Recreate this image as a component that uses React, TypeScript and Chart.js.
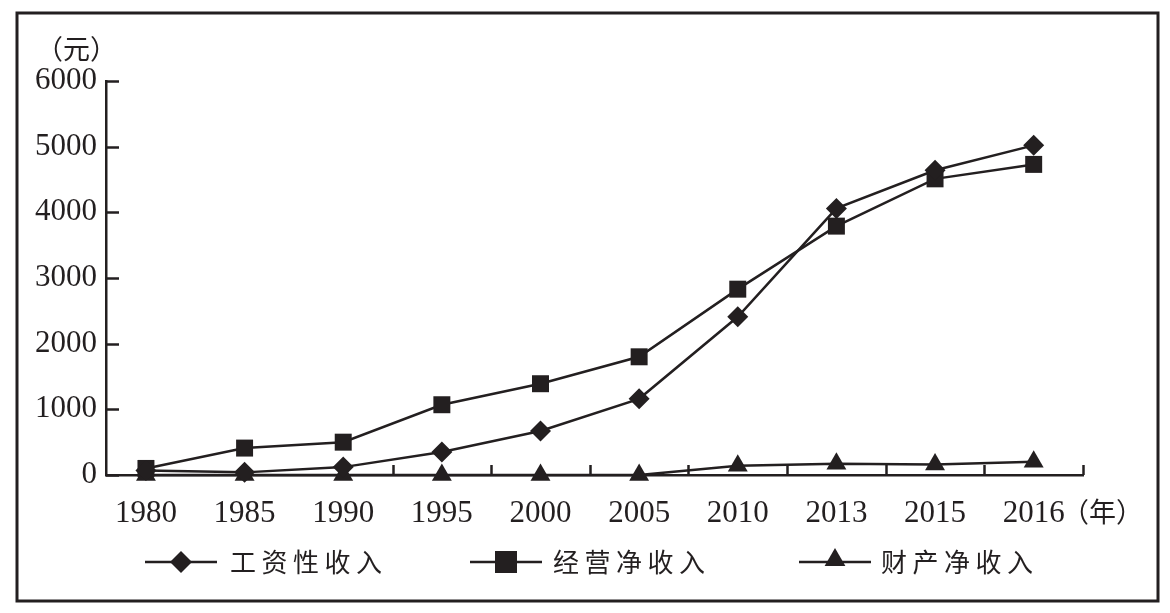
import React, { useEffect, useRef } from 'react';
import { Chart, registerables } from 'chart.js';

Chart.register(...registerables);

const years = ['1980', '1985', '1990', '1995', '2000', '2005', '2010', '2013', '2015', '2016'];
const wageIncome = [70, 40, 120, 350, 670, 1160, 2410, 4060, 4640, 5020];
const businessIncome = [100, 410, 500, 1070, 1390, 1800, 2830, 3790, 4510, 4730];
const propertyIncome = [0, 0, 0, 0, 0, 0, 140, 170, 160, 200];
const yTicks = [0, 1000, 2000, 3000, 4000, 5000, 6000];
const seriesNames = ['工资性收入', '经营净收入', '财产净收入'];
const yUnit = '（元）';
const xUnit = '（年）';

const INK = '#231f20';
const CJK_FONT = '26px "Noto Sans CJK SC", sans-serif';
const UNIT_FONT = '27px "Noto Sans CJK SC", sans-serif';

function drawMarker(ctx: CanvasRenderingContext2D, style: string, x: number, y: number, r: number) {
  ctx.beginPath();
  if (style === 'rect') {
    ctx.rect(x - r, y - r, 2 * r, 2 * r);
  } else if (style === 'rectRot') {
    ctx.moveTo(x, y - r);
    ctx.lineTo(x + r, y);
    ctx.lineTo(x, y + r);
    ctx.lineTo(x - r, y);
    ctx.closePath();
  } else {
    const w = r * Math.sin(Math.PI / 3);
    ctx.moveTo(x, y - r);
    ctx.lineTo(x + w, y + r / 2);
    ctx.lineTo(x - w, y + r / 2);
    ctx.closePath();
  }
  ctx.fill();
}

const decorPlugin = {
  id: 'decor',
  beforeDatasetsDraw(chart: any) {
    const ctx = chart.ctx as CanvasRenderingContext2D;
    const xs = chart.scales.x;
    const ys = chart.scales.y;
    const area = chart.chartArea;
    ctx.save();
    ctx.strokeStyle = INK;
    ctx.lineWidth = 2.5;
    yTicks.forEach((v) => {
      const y = Math.round(ys.getPixelForValue(v)) + 0.5;
      ctx.beginPath();
      ctx.moveTo(area.left, y);
      ctx.lineTo(area.left + 13, y);
      ctx.stroke();
    });
    for (let i = 2; i < years.length; i++) {
      const x = Math.round(xs.getPixelForValue(i + 0.5)) + 0.5;
      ctx.beginPath();
      ctx.moveTo(x, area.bottom);
      ctx.lineTo(x, area.bottom - 10);
      ctx.stroke();
    }
    ctx.restore();
  },
  afterDraw(chart: any) {
    const ctx = chart.ctx as CanvasRenderingContext2D;
    ctx.save();
    ctx.strokeStyle = INK;
    ctx.lineWidth = 3;
    ctx.strokeRect(17, 13, 1141, 588);
    ctx.fillStyle = INK;
    ctx.font = UNIT_FONT;
    (ctx as any).letterSpacing = '0px';
    ctx.textBaseline = 'middle';
    ctx.textAlign = 'left';
    ctx.fillText(yUnit, 36, 49);
    ctx.fillText(xUnit, 1062, 512);
    const legendY = 562;
    const items = [
      { lineStart: 145, textX: 230, style: 'rectRot', r: 11 },
      { lineStart: 470, textX: 553, style: 'rect', r: 11 },
      { lineStart: 799, textX: 881, style: 'triangle', r: 12 },
    ];
    chart.data.datasets.forEach((ds: any, i: number) => {
      const it = items[i];
      ctx.strokeStyle = INK;
      ctx.lineWidth = 2.5;
      ctx.beginPath();
      ctx.moveTo(it.lineStart, legendY);
      ctx.lineTo(it.lineStart + 72, legendY);
      ctx.stroke();
      ctx.fillStyle = INK;
      const cy = it.style === 'triangle' ? legendY - 2 : legendY;
      drawMarker(ctx, it.style, it.lineStart + 36, cy, it.r);
      ctx.font = CJK_FONT;
      (ctx as any).letterSpacing = '5.5px';
      ctx.textBaseline = 'middle';
      ctx.fillText(ds.label, it.textX, legendY);
    });
    ctx.restore();
  },
};

export default function App() {
  const canvasRef = useRef<HTMLCanvasElement | null>(null);

  useEffect(() => {
    document.body.style.margin = '0';
    const canvas = canvasRef.current;
    if (!canvas) return;
    const toPts = (arr: number[]) => arr.map((v, i) => ({ x: i, y: v }));
    const mk = (label: string, data: number[], style: string, r: number) => ({
      label,
      data: toPts(data),
      borderColor: INK,
      borderWidth: 2.5,
      backgroundColor: INK,
      pointStyle: style,
      pointRadius: r,
      pointHoverRadius: r,
      pointBackgroundColor: INK,
      pointBorderColor: INK,
      pointBorderWidth: 0,
      tension: 0,
      clip: false,
    });
    const chart = new Chart(canvas, {
      type: 'line',
      data: {
        datasets: [
          mk(seriesNames[0], wageIncome, 'rectRot', 10.5),
          mk(seriesNames[1], businessIncome, 'rect', 12),
          mk(seriesNames[2], propertyIncome, 'triangle', 11.5),
        ] as any,
      },
      options: {
        animation: false,
        responsive: false,
        devicePixelRatio: 1,
        layout: { padding: { top: 81, right: 87, left: 0, bottom: 0 } },
        plugins: { legend: { display: false }, tooltip: { enabled: false } },
        scales: {
          x: {
            type: 'linear',
            min: -0.405,
            max: 9.5,
            afterBuildTicks: (s: any) => {
              s.ticks = years.map((_, i) => ({ value: i }));
            },
            afterFit: (s: any) => {
              s.height = 138;
            },
            ticks: {
              autoSkip: false,
              maxRotation: 0,
              padding: 20,
              color: INK,
              font: { family: '"Liberation Serif", "DejaVu Serif", serif', size: 31 },
              callback: (v: any) => years[v as number] ?? '',
            },
            grid: { display: false, drawTicks: false },
            border: { display: true, color: INK, width: 2.5 },
          },
          y: {
            type: 'linear',
            min: 0,
            max: 6000,
            afterBuildTicks: (s: any) => {
              s.ticks = yTicks.map((v) => ({ value: v }));
            },
            afterFit: (s: any) => {
              s.width = 106;
            },
            ticks: {
              padding: 9,
              color: INK,
              font: { family: '"Liberation Serif", "DejaVu Serif", serif', size: 31 },
              callback: (v: any) => String(v),
            },
            grid: { display: false, drawTicks: false },
            border: { display: true, color: INK, width: 2.5 },
          },
        },
      } as any,
      plugins: [decorPlugin],
    });
    return () => chart.destroy();
  }, []);

  return (
    <div style={{ width: 1170, height: 613, background: '#fff' }}>
      <canvas ref={canvasRef} width={1170} height={613} style={{ display: 'block' }} />
    </div>
  );
}
